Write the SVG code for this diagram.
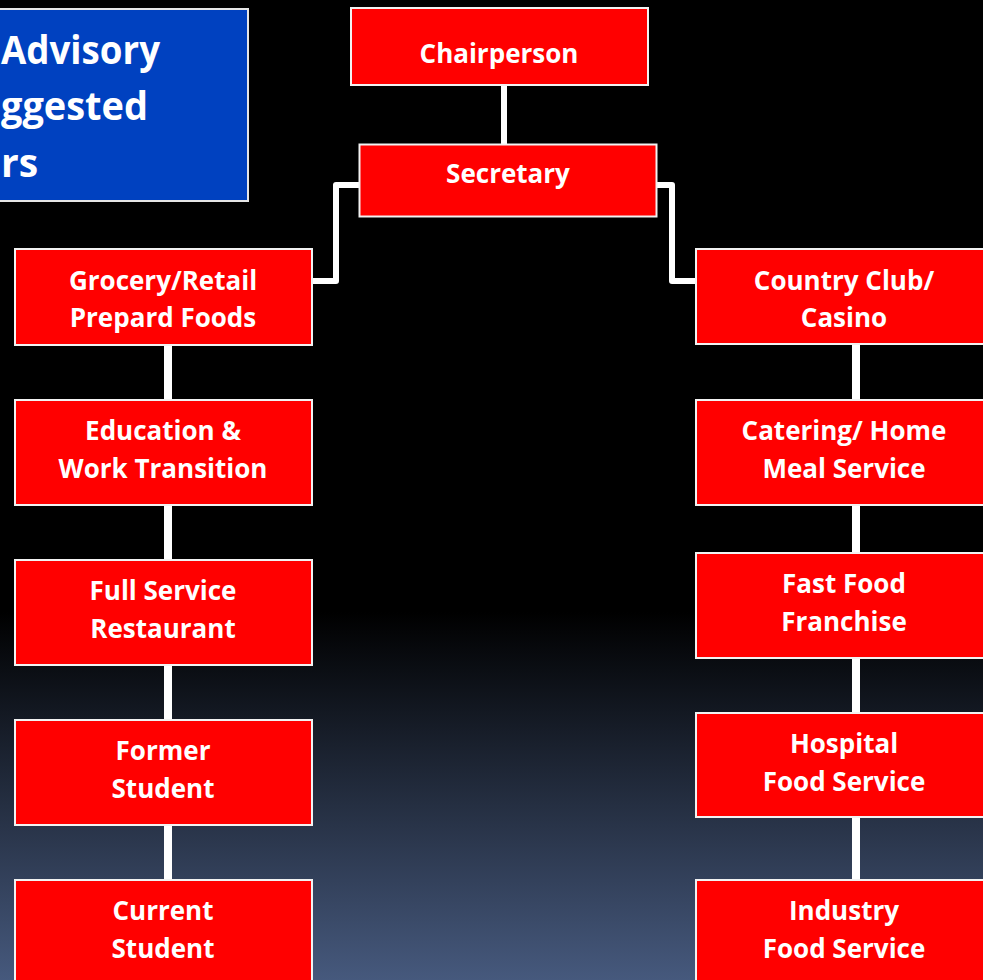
<svg xmlns="http://www.w3.org/2000/svg" width="983" height="980" viewBox="0 0 983 980">
<defs>
<linearGradient id="bg" gradientUnits="userSpaceOnUse" x1="0" y1="612" x2="0" y2="980">
<stop offset="0" stop-color="#000000"/>
<stop offset="1" stop-color="#46597d"/>
</linearGradient>
<style>
.box{fill:#ff0000;stroke:#f2f2f2;stroke-width:2}
.t{font-family:"Open Sans","Noto Sans","Liberation Sans",sans-serif;font-weight:700;font-size:26px;fill:#ffffff;text-anchor:middle}
.title{font-family:"Open Sans","Noto Sans","Liberation Sans",sans-serif;font-weight:700;font-size:39px;fill:#ffffff}
.c{fill:none;stroke:#ffffff;stroke-linejoin:round;stroke-linecap:butt}
</style>
</defs>
<rect x="0" y="0" width="983" height="980" fill="url(#bg)"/>
<g id="title">
<rect x="-10" y="9" width="258" height="192" fill="#0041c0" stroke="#e6e6e6" stroke-width="2"/>
<text class="title" x="1" y="64" textLength="159" lengthAdjust="spacingAndGlyphs">Advisory</text>
<text class="title" x="1" y="120" textLength="147" lengthAdjust="spacingAndGlyphs">ggested</text>
<text class="title" x="1" y="177">rs</text>
</g>
<g id="connectors">
<path class="c" stroke-width="6" d="M504,86 V144"/>
<path class="c" stroke-width="6" d="M359,185 H336 V281 H312"/>
<path class="c" stroke-width="6" d="M657,185 H672 V281 H696"/>
<path class="c" stroke-width="8" d="M168,345 V400 M168,505 V560 M168,665 V720 M168,825 V880"/>
<path class="c" stroke-width="8" d="M856,344 V400 M856,505 V553 M856,658 V713 M856,817 V880"/>
</g>
<g id="chairperson"><rect class="box" x="351" y="8" width="297" height="77"/><text class="t" x="499" y="63">Chairperson</text></g>
<g id="secretary"><rect class="box" x="359.5" y="144.5" width="297" height="72"/><text class="t" x="508" y="183">Secretary</text></g>
<g id="grocery"><rect class="box" x="15" y="249" width="297" height="96"/><text class="t" x="163" y="290">Grocery/Retail</text><text class="t" x="163" y="327">Prepard Foods</text></g>
<g id="education"><rect class="box" x="15" y="400" width="297" height="105"/><text class="t" x="163" y="440">Education &amp;</text><text class="t" x="163" y="478">Work Transition</text></g>
<g id="fullservice"><rect class="box" x="15" y="560" width="297" height="105"/><text class="t" x="163" y="600">Full Service</text><text class="t" x="163" y="638">Restaurant</text></g>
<g id="former"><rect class="box" x="15" y="720" width="297" height="105"/><text class="t" x="163" y="760">Former</text><text class="t" x="163" y="798">Student</text></g>
<g id="current"><rect class="box" x="15" y="880" width="297" height="105"/><text class="t" x="163" y="920">Current</text><text class="t" x="163" y="958">Student</text></g>
<g id="countryclub"><rect class="box" x="696" y="249" width="297" height="95"/><text class="t" x="844" y="290">Country Club/</text><text class="t" x="844" y="327">Casino</text></g>
<g id="catering"><rect class="box" x="696" y="400" width="297" height="105"/><text class="t" x="844" y="440">Catering/ Home</text><text class="t" x="844" y="478">Meal Service</text></g>
<g id="fastfood"><rect class="box" x="696" y="553" width="297" height="105"/><text class="t" x="844" y="593">Fast Food</text><text class="t" x="844" y="631">Franchise</text></g>
<g id="hospital"><rect class="box" x="696" y="713" width="297" height="104"/><text class="t" x="844" y="753">Hospital</text><text class="t" x="844" y="791">Food Service</text></g>
<g id="industry"><rect class="box" x="696" y="880" width="297" height="105"/><text class="t" x="844" y="920">Industry</text><text class="t" x="844" y="958">Food Service</text></g>
</svg>
